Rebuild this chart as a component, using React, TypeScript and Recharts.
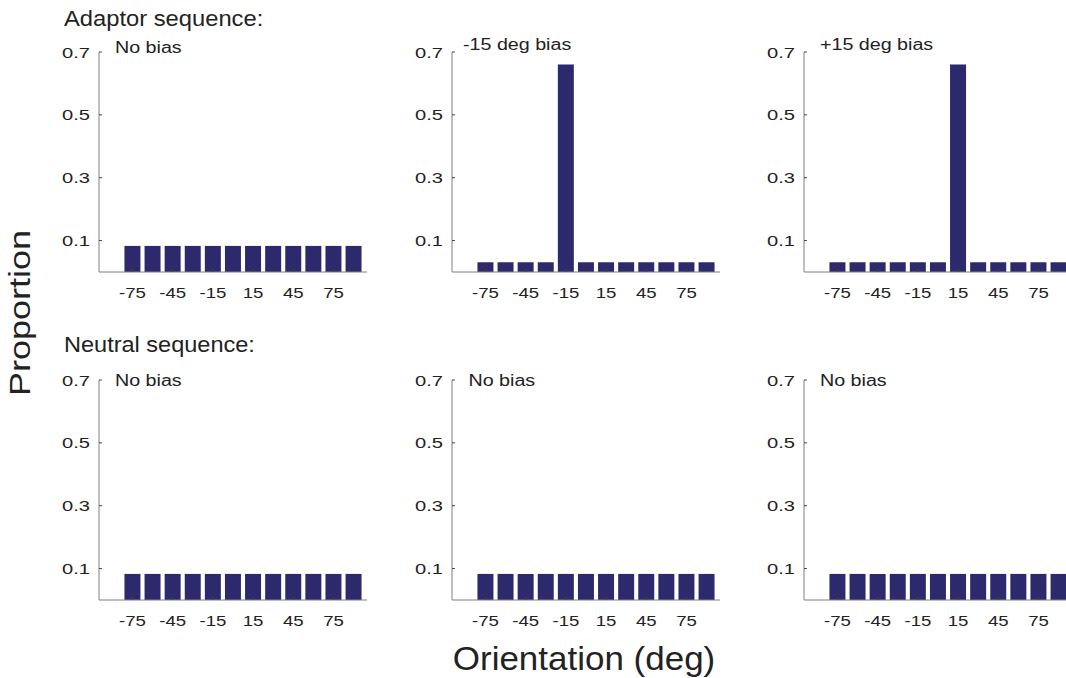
import React from "react";
import { BarChart, Bar, XAxis, YAxis } from "recharts";

// orientation bins (deg) and the proportion in each bin
const orientations = [-75, -60, -45, -30, -15, 0, 15, 30, 45, 60, 75, 90];
const noBias = [0.083, 0.083, 0.083, 0.083, 0.083, 0.083, 0.083, 0.083, 0.083, 0.083, 0.083, 0.083];
const minus15Bias = [0.031, 0.031, 0.031, 0.031, 0.66, 0.031, 0.031, 0.031, 0.031, 0.031, 0.031, 0.031];
const plus15Bias = [0.031, 0.031, 0.031, 0.031, 0.031, 0.031, 0.66, 0.031, 0.031, 0.031, 0.031, 0.031];

const xTicks = [-75, -45, -15, 15, 45, 75];
const yTicks = [0.1, 0.3, 0.5, 0.7];

const rowTitles = ["Adaptor sequence:", "Neutral sequence:"];
const panelTitles = [
  ["No bias", "-15 deg bias", "+15 deg bias"],
  ["No bias", "No bias", "No bias"],
];
const panelValues = [
  [noBias, minus15Bias, plus15Bias],
  [noBias, noBias, noBias],
];

const FONT = '"Liberation Sans", Arial, Helvetica, sans-serif';
const BAR = "#2c2a6c";
const AXIS = "#808080";
const TEXT = "#222";

// plot-area geometry
const COL_X = [99, 451.5, 804];
const ROW_Y = [52, 380];
const PLOT_W = 268;
const PLOT_H = 220;
const Y_AXIS_W = 60;
const TOP_PAD = 12;
const X_AXIS_H = 40;

type TextProps = {
  x: number;
  y: number;
  size: number;
  sx?: number;
  anchor?: "start" | "middle" | "end";
  rotate?: number;
  dy?: string;
  children: React.ReactNode;
};

// text with a little horizontal stretch, anchored at (x, y)
function StretchText({ x, y, size, sx = 1, anchor = "start", rotate = 0, dy, children }: TextProps) {
  return (
    <text
      transform={`translate(${x} ${y}) rotate(${rotate}) scale(${sx} 1)`}
      x={0}
      y={0}
      dy={dy}
      fontSize={size}
      fontFamily={FONT}
      fill={TEXT}
      textAnchor={anchor}
    >
      {children}
    </text>
  );
}

function YTick(props: any) {
  const { x, y, payload } = props;
  return (
    <g>
      <line x1={x} x2={x + 3} y1={y} y2={y} stroke="#444" strokeWidth={1} />
      <StretchText x={x - 9} y={y} size={15.5} sx={1.3} anchor="end" dy="0.36em">
        {Number(payload.value).toFixed(1)}
      </StretchText>
    </g>
  );
}

function XTick(props: any) {
  const { x, y, payload } = props;
  return (
    <g>
      <line x1={x} x2={x} y1={y} y2={y - 3} stroke="#444" strokeWidth={1} />
      <StretchText x={x} y={y + 26} size={15.5} sx={1.2} anchor="middle">
        {payload.value}
      </StretchText>
    </g>
  );
}

function Panel({ values, left, top }: { values: number[]; left: number; top: number }) {
  const data = orientations.map((o, i) => ({ orientation: o, p: values[i] }));
  return (
    <div style={{ position: "absolute", left: left - Y_AXIS_W, top: top - TOP_PAD }}>
      <BarChart
        width={Y_AXIS_W + PLOT_W}
        height={TOP_PAD + PLOT_H + X_AXIS_H}
        data={data}
        margin={{ top: TOP_PAD, right: 0, bottom: 0, left: 0 }}
      >
        <XAxis
          dataKey="orientation"
          type="number"
          domain={[-100, 100]}
          ticks={xTicks}
          height={X_AXIS_H}
          axisLine={{ stroke: AXIS }}
          tickLine={false}
          tickSize={0}
          tickMargin={0}
          tick={<XTick />}
          interval={0}
        />
        <YAxis
          type="number"
          domain={[0, 0.7]}
          ticks={yTicks}
          width={Y_AXIS_W}
          axisLine={{ stroke: AXIS }}
          tickLine={false}
          tickSize={0}
          tickMargin={0}
          tick={<YTick />}
          interval={0}
        />
        <Bar dataKey="p" fill={BAR} barSize={16} isAnimationActive={false} />
      </BarChart>
    </div>
  );
}

const titleOffsets = [
  [
    { dx: 16, y: 53 },
    { dx: 11.5, y: 50 },
    { dx: 16, y: 50 },
  ],
  [
    { dx: 16, y: 386 },
    { dx: 17, y: 386 },
    { dx: 16, y: 386 },
  ],
];

export default function App() {
  return (
    <div
      style={{
        position: "fixed",
        left: 0,
        top: 0,
        width: 1066,
        height: 678,
        overflow: "hidden",
        background: "#fff",
      }}
    >
      {panelValues.map((row, r) =>
        row.map((vals, c) => (
          <Panel key={`${r}-${c}`} values={vals} left={COL_X[c]} top={ROW_Y[r]} />
        ))
      )}
      <svg
        width={1066}
        height={678}
        style={{ position: "absolute", left: 0, top: 0, pointerEvents: "none" }}
      >
        <StretchText x={64} y={26} size={22} sx={1.08}>
          {rowTitles[0]}
        </StretchText>
        <StretchText x={64} y={352} size={22} sx={1.07}>
          {rowTitles[1]}
        </StretchText>
        {panelTitles.map((row, r) =>
          row.map((t, c) => (
            <StretchText
              key={`t-${r}-${c}`}
              x={COL_X[c] + titleOffsets[r][c].dx}
              y={titleOffsets[r][c].y}
              size={16}
              sx={1.23}
            >
              {t}
            </StretchText>
          ))
        )}
        <StretchText x={30} y={313} size={30} sx={1.2} anchor="middle" rotate={-90}>
          Proportion
        </StretchText>
        <StretchText x={584} y={670} size={33} sx={1.06} anchor="middle">
          Orientation (deg)
        </StretchText>
      </svg>
    </div>
  );
}
